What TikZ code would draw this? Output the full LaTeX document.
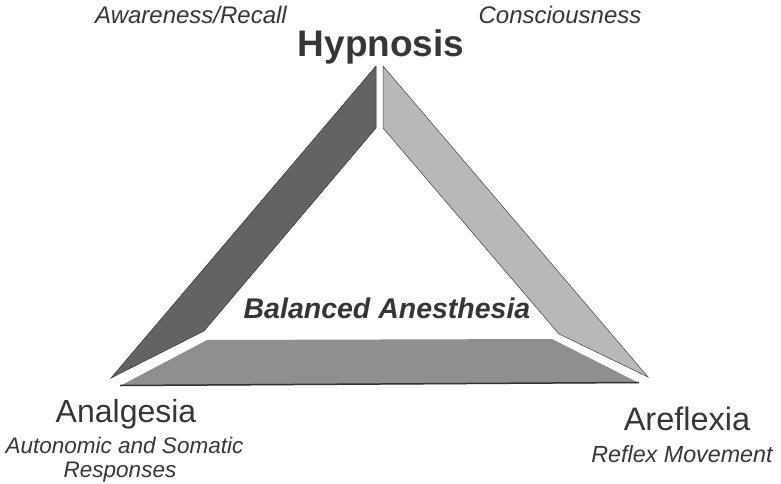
\documentclass[tikz,border=0pt]{standalone}
\usepackage{fontspec}
\setmainfont{Liberation Sans}
\usetikzlibrary{positioning}
\definecolor{bandd}{HTML}{636363}
\definecolor{bandl}{HTML}{B8B8B8}
\definecolor{bandm}{HTML}{8F8F8F}
\definecolor{ink}{HTML}{363636}

\begin{document}
\begin{tikzpicture}[x=1pt,y=-1pt,
      lbl/.style={inner sep=0pt,anchor=base,text=ink},
      big/.style={lbl,font=\fontsize{32}{36}\selectfont},
      sub/.style={lbl,font=\fontsize{22.5}{24}\selectfont\itshape},
      top/.style={lbl,font=\fontsize{24}{28}\selectfont\itshape}]
    \useasboundingbox (0,0) rectangle (781,484);
    % the three bands
    \fill[bandd,draw=bandd!55!black,line width=0.5pt]
      (376,66) -- (376,128) -- (204,331) -- (111,378) -- cycle;
    \fill[bandl,draw=bandl!35!black,line width=0.5pt]
      (383,66) -- (648,377) -- (559,334) -- (383,128) -- cycle;
    \fill[bandm] (207,340) -- (552,339) -- (639,383) -- (120,386) -- cycle;
    \draw[black!80,line width=1.5pt] (120,385.5) -- (639,382.5);
    % labels
    \node[top] (awr) at (191,24) {Awareness/Recall};
    \node[top] (con) at (560,23.5) {Consciousness};
    \node[lbl,font=\fontsize{37}{40}\selectfont\bfseries] (hyp) at (381,56.5) {Hypnosis};
    \node[lbl,font=\fontsize{28.5}{32}\selectfont\bfseries\itshape] (bal) at (387,318) {Balanced Anesthesia};
    \node[big] (ana) at (126,422) {Analgesia};
    \node[sub] (aut) at (124.5,453) {Autonomic and Somatic};
    \node[sub] (rsp) at (120,477) {Responses};
    \node[big,font=\fontsize{32.5}{36}\selectfont] (are) at (687,430) {Areflexia};
    \node[sub,font=\fontsize{23.3}{26}\selectfont\itshape] (rfx) at (682,462) {Reflex Movement};
  \end{tikzpicture}
\end{document}
